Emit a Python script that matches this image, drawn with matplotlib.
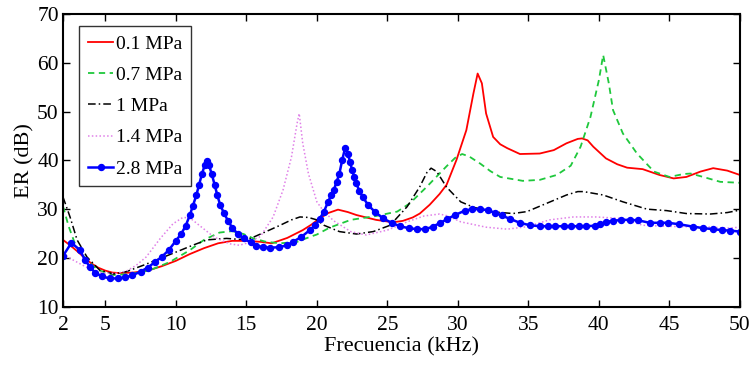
import matplotlib.pyplot as plt

plt.rcParams['font.family'] = ['Liberation Serif', 'DejaVu Serif']
plt.rcParams['mathtext.fontset'] = 'stix'

# 0.1 MPa (red, solid)
f_01 = [2.0, 2.5, 3.0, 3.5, 4.0, 4.5, 5.0, 5.5, 6.0, 7.0, 8.0, 9.0, 10.0, 11.0, 12.0,
        13.0, 14.0, 15.0, 16.0, 16.8, 17.9, 19.0, 19.6, 20.2, 20.8, 21.5, 22.2, 22.8,
        24.2, 25.4, 26.1, 26.8, 27.3, 28.0, 28.7, 29.2, 29.9, 30.6, 31.1, 31.4, 31.7,
        32.0, 32.5, 33.0, 33.5, 34.4, 35.8, 36.8, 37.7, 38.5, 38.8, 39.2, 39.6, 40.5,
        41.3, 42.0, 43.1, 44.3, 45.3, 46.2, 47.2, 48.1, 49.1, 50.0]
er_01 = [23.7, 22.6, 21.4, 20.1, 18.9, 18.0, 17.4, 17.0, 16.9, 17.0, 17.4, 18.3, 19.4, 20.8, 22.0,
         23.0, 23.5, 23.5, 23.3, 23.0, 24.1, 25.7, 26.8, 28.1, 29.2, 29.9, 29.4, 28.8,
         27.8, 27.3, 27.6, 28.3, 29.1, 30.9, 33.1, 35.0, 40.1, 46.2, 53.7, 57.8, 55.8,
         49.6, 44.8, 43.3, 42.5, 41.3, 41.4, 42.1, 43.5, 44.4, 44.5, 44.1, 42.8, 40.4,
         39.2, 38.5, 38.2, 37.0, 36.3, 36.6, 37.7, 38.4, 37.9, 37.0]

# 0.7 MPa (green, dashed)
f_07 = [2.0, 2.4, 2.8, 3.2, 3.7, 4.2, 4.6, 5.6, 6.75, 8.2, 9.6, 11.0, 12.0, 13.1, 14.0,
        14.8, 15.5, 16.4, 17.4, 18.6, 19.5, 20.0, 20.9, 22.4, 24.2, 25.7, 26.6, 27.8,
        28.6, 29.2, 29.8, 30.3, 30.8, 31.6, 32.3, 33.0, 34.6, 35.8, 37.0, 38.0, 38.7,
        39.4, 40.0, 40.3, 40.7, 41.0, 41.7, 42.7, 43.9, 45.0, 46.0, 46.5, 47.4, 48.6, 50.0]
er_07 = [30.6, 26.5, 23.3, 21.2, 19.6, 18.2, 17.4, 16.5, 16.7, 17.5, 19.2, 21.6, 23.7, 25.2, 25.5,
         24.9, 24.0, 23.3, 23.0, 23.3, 24.3, 24.8, 26.2, 27.8, 28.6, 29.5, 31.2, 34.6,
         37.0, 38.8, 40.5, 41.3, 40.8, 39.3, 37.8, 36.6, 35.8, 36.0, 37.0, 38.9, 42.8,
         48.9, 56.5, 61.6, 55.8, 50.3, 45.5, 41.4, 37.7, 36.6, 37.2, 37.3, 36.6, 35.6, 35.4]

# 1 MPa (black, dash-dot)
f_1 = [2.0, 2.5, 3.0, 3.7, 4.6, 5.6, 6.5, 7.7, 8.9, 10.1, 11.2, 12.2, 13.6, 14.5, 15.3,
       16.4, 17.4, 18.2, 18.8, 19.4, 20.0, 20.5, 21.6, 22.8, 24.0, 25.2, 26.4, 27.3,
       27.8, 28.1, 28.5, 29.2, 30.2, 31.1, 32.3, 33.9, 34.9, 36.3, 37.7, 38.5, 38.9,
       40.3, 41.7, 43.4, 44.8, 46.2, 47.9, 49.1, 50.0]
er_1 = [32.5, 28.4, 23.7, 20.2, 17.5, 16.7, 17.2, 18.5, 19.9, 21.3, 22.6, 23.7, 24.0, 23.8, 24.0,
        25.4, 26.7, 27.8, 28.4, 28.3, 27.8, 26.7, 25.4, 24.9, 25.4, 26.7, 30.5, 34.6,
        37.5, 38.4, 37.7, 34.5, 31.5, 30.4, 29.5, 29.1, 29.5, 31.2, 32.9, 33.6, 33.6,
        32.9, 31.5, 30.0, 29.7, 29.1, 29.0, 29.3, 29.8]

# 1.4 MPa (violet, dotted)
f_14 = [2.0, 2.7, 3.4, 4.1, 4.85, 5.7, 6.5, 7.2, 7.9, 8.9, 9.8, 10.5, 11.0, 11.7, 12.7,
        13.8, 14.5, 15.0, 16.0, 16.9, 17.6, 18.2, 18.6, 18.75, 19.0, 19.4, 20.0, 20.5,
        21.2, 22.4, 23.5, 25.0, 26.4, 27.6, 28.7, 29.3, 30.2, 32.0, 33.5, 34.9, 36.5,
        38.2, 39.8, 41.5, 43.1, 44.6, 46.0, 47.4, 49.1, 50.0]
er_14 = [20.9, 19.6, 18.5, 17.5, 16.9, 16.8, 17.3, 18.5, 20.2, 24.0, 27.0, 28.3, 28.2, 26.6, 24.3,
         22.9, 22.6, 23.0, 24.4, 28.4, 33.9, 40.7, 47.6, 49.6, 43.5, 37.3, 31.5, 29.5,
         27.6, 25.4, 24.7, 25.7, 27.4, 28.6, 29.0, 28.6, 27.4, 26.3, 25.9, 26.4, 27.8,
         28.4, 28.4, 28.1, 26.7, 26.5, 26.4, 26.4, 26.1, 26.3]

# 2.8 MPa (blue, solid with dots)
f_28 = [2.0, 2.6, 3.2, 3.56, 3.9, 4.3, 4.8, 5.3, 5.9, 6.4, 6.9, 7.5, 8.0, 8.5, 9.0, 9.5,
        10.0, 10.4, 10.7, 11.0, 11.2, 11.45, 11.65, 11.85, 12.05, 12.2, 12.35, 12.55,
        12.75, 12.95, 13.15, 13.4, 13.7, 14.0, 14.4, 14.8, 15.3, 15.7, 16.2, 16.7, 17.3,
        17.9, 18.3, 18.9, 19.5, 19.9, 20.2, 20.5, 20.8, 21.0, 21.2, 21.4, 21.6, 21.8,
        22.0, 22.2, 22.35, 22.5, 22.65, 22.8, 23.0, 23.25, 23.65, 24.1, 24.7, 25.3, 25.9,
        26.5, 27.1, 27.7, 28.2, 28.7, 29.2, 29.8, 30.5, 31.0, 31.6, 32.1, 32.6, 33.1,
        33.7, 34.4, 35.1, 35.8, 36.4, 36.9, 37.5, 38.0, 38.6, 39.1, 39.7, 40.1, 40.5,
        41.0, 41.6, 42.2, 42.8, 43.6, 44.3, 44.9, 45.7, 46.7, 47.4, 48.1, 48.7, 49.3, 50.0]
er_28 = [20.4, 23.1, 21.6, 19.6, 18.2, 16.9, 16.2, 15.8, 15.8, 16.0, 16.4, 17.2, 18.0, 19.1, 20.2, 21.6,
         23.5, 25.0, 26.6, 28.8, 30.6, 32.8, 35.0, 37.2, 39.0, 39.9, 39.0, 37.2,
         35.0, 32.8, 30.8, 29.3, 27.6, 26.2, 24.9, 24.0, 23.2, 22.5, 22.2, 22.1, 22.2,
         22.6, 23.3, 24.3, 25.7, 26.8, 28.0, 29.5, 31.5, 32.8, 33.9, 35.6, 37.3, 40.1,
         42.5, 41.4, 39.7, 38.0, 36.6, 35.3, 33.8, 32.5, 30.8, 29.5, 28.1, 27.2, 26.5,
         26.1, 25.9, 25.9, 26.4, 27.1, 27.9, 28.8, 29.7, 30.0, 30.0, 29.8, 29.3, 28.7,
         28.0, 27.2, 26.7, 26.5, 26.5, 26.5, 26.5, 26.5, 26.5, 26.5, 26.6, 26.9, 27.4,
         27.6, 27.8, 27.8, 27.7, 27.2, 27.2, 27.2, 26.9, 26.4, 26.1, 25.9, 25.7, 25.6, 25.4]

xticks = [2, 5, 10, 15, 20, 25, 30, 35, 40, 45, 50]
yticks = [10, 20, 30, 40, 50, 60, 70]

fig = plt.figure(figsize=(7.56, 3.65), dpi=100)
ax = fig.add_axes([0.0833, 0.1597, 0.8955, 0.8019])

ax.plot(f_01, er_01, color='#ff0000', lw=1.3, label='0.1 MPa')
ax.plot(f_07, er_07, color='#1fc83c', lw=1.3, ls=(0, (3.5, 2.5)), label='0.7 MPa')
ax.plot(f_1, er_1, color='black', lw=1.1, ls=(0, (5, 2, 1, 2)), label='1 MPa')
ax.plot(f_14, er_14, color='#e080e8', lw=1.1, ls=(0, (1, 1.5)), label='1.4 MPa')
ax.plot(f_28, er_28, color='#0000ff', lw=1.8, marker='o', ms=4.3, label='2.8 MPa')

ax.set_xlim(2, 50)
ax.set_ylim(10, 70)
ax.set_xticks(xticks)
ax.set_yticks(yticks)
ax.tick_params(direction='in', length=5, width=1, labelsize=15.5, top=True, right=True)
ax.tick_params(axis='x', pad=7)
ax.tick_params(axis='y', pad=3)
for s in ax.spines.values():
    s.set_linewidth(1.5)

ax.set_xlabel('Frecuencia (kHz)', fontsize=16, labelpad=1)
ax.set_ylabel('ER (dB)', fontsize=16, labelpad=2)

leg = ax.legend(loc='upper left', bbox_to_anchor=(0.024, 0.958), fontsize=14, frameon=True,
                fancybox=False, edgecolor='black', handlelength=1.3, handletextpad=0.15,
                borderpad=0.45, labelspacing=0.7, borderaxespad=0)
leg.get_frame().set_linewidth(1.0)

fig.savefig('out.png', dpi=100)
